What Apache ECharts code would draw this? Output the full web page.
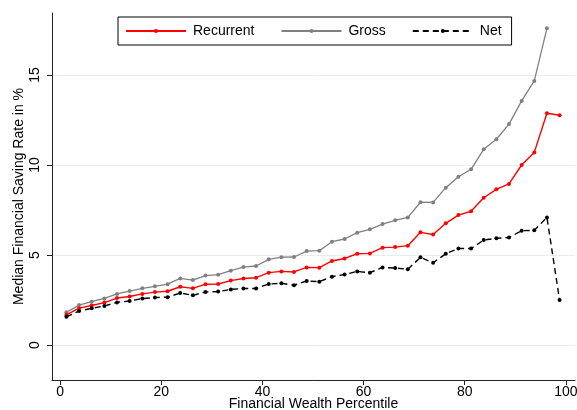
<!DOCTYPE html>
<html>
<head>
<meta charset="utf-8">
<script src="https://cdn.jsdelivr.net/npm/echarts@6/dist/echarts.min.js"></script>
<style>
  html, body { margin: 0; padding: 0; background: #fff; }
  #chart { width: 577px; height: 410px; }
</style>
</head>
<body>
<div id="chart"></div>
<script>
// Percentile bins (midpoints of 2.5-point groups)
const percentiles = [1.25, 3.75, 6.25, 8.75, 11.25, 13.75, 16.25, 18.75, 21.25, 23.75,
  26.25, 28.75, 31.25, 33.75, 36.25, 38.75, 41.25, 43.75, 46.25, 48.75,
  51.25, 53.75, 56.25, 58.75, 61.25, 63.75, 66.25, 68.75, 71.25, 73.75,
  76.25, 78.75, 81.25, 83.75, 86.25, 88.75, 91.25, 93.75, 96.25, 98.75];

const recurrent = [1.68, 2.05, 2.20, 2.36, 2.61, 2.70, 2.84, 2.94, 2.99, 3.24,
  3.15, 3.38, 3.39, 3.58, 3.70, 3.74, 4.02, 4.09, 4.06, 4.31,
  4.30, 4.67, 4.81, 5.07, 5.09, 5.41, 5.44, 5.52, 6.26, 6.14,
  6.76, 7.22, 7.43, 8.18, 8.65, 8.95, 10.00, 10.70, 12.87, 12.76];

const gross = [1.82, 2.22, 2.41, 2.59, 2.84, 3.00, 3.15, 3.26, 3.38, 3.70,
  3.61, 3.86, 3.91, 4.13, 4.33, 4.39, 4.76, 4.88, 4.89, 5.22,
  5.24, 5.74, 5.89, 6.24, 6.43, 6.72, 6.93, 7.09, 7.93, 7.92,
  8.74, 9.35, 9.76, 10.87, 11.43, 12.27, 13.56, 14.67, 17.59, null];

const net = [1.57, 1.89, 2.04, 2.17, 2.37, 2.45, 2.58, 2.64, 2.66, 2.89,
  2.76, 2.95, 2.97, 3.09, 3.14, 3.14, 3.39, 3.43, 3.32, 3.56,
  3.52, 3.80, 3.92, 4.09, 4.02, 4.31, 4.28, 4.21, 4.87, 4.57,
  5.07, 5.36, 5.36, 5.83, 5.93, 5.97, 6.35, 6.37, 7.09, 2.50];

const xTicks = [0, 20, 40, 60, 80, 100];
const yTicks = [0, 5, 10, 15];

const FONT = "'Liberation Sans', Arial, Helvetica, sans-serif";

function pairs(vals) {
  return percentiles.map((p, i) => [p, vals[i]]);
}

const chart = echarts.init(document.getElementById('chart'), null, { renderer: 'canvas' });

chart.setOption({
  animation: false,
  backgroundColor: '#ffffff',
  textStyle: { fontFamily: FONT },
  grid: { left: 52, right: 2, top: 13, bottom: 30, containLabel: false, outerBoundsMode: 'none' },
  legend: {
    left: 118,
    top: 17,
    itemWidth: 60,
    itemHeight: 5,
    itemGap: 26,
    padding: [7, 10, 7, 7],
    borderColor: '#000',
    borderWidth: 1,
    backgroundColor: '#fff',
    textStyle: { fontFamily: FONT, fontSize: 14, color: '#000', padding: [0, 0, 0, 2] },
    data: ['Recurrent', 'Gross', 'Net']
  },
  xAxis: {
    type: 'value',
    min: -1.6,
    max: 101.8,
    name: 'Financial Wealth Percentile',
    nameLocation: 'middle',
    nameGap: 17,
    nameMoveOverlap: false,
    nameTextStyle: { fontFamily: FONT, fontSize: 14, color: '#000' },
    axisLine: { show: true, onZero: false, lineStyle: { color: '#222', width: 1 } },
    axisTick: { show: true, length: 5, lineStyle: { color: '#222' }, customValues: xTicks },
    axisLabel: { fontFamily: FONT, fontSize: 14, color: '#000', margin: 5, customValues: xTicks },
    splitLine: { show: false }
  },
  yAxis: {
    type: 'value',
    min: -1.94,
    max: 18.44,
    name: 'Median Financial Saving Rate in %',
    nameLocation: 'middle',
    nameGap: 26,
    nameMoveOverlap: false,
    nameTextStyle: { fontFamily: FONT, fontSize: 14, color: '#000' },
    axisLine: { show: true, onZero: false, lineStyle: { color: '#222', width: 1 } },
    axisTick: { show: true, length: 5, lineStyle: { color: '#222' }, customValues: yTicks },
    axisLabel: { fontFamily: FONT, fontSize: 14, color: '#000', rotate: 90, margin: 10, customValues: yTicks },
    splitLine: { show: false }
  },
  series: [
    {
      name: 'Recurrent',
      type: 'line',
      data: pairs(recurrent),
      symbol: 'circle',
      symbolSize: 4,
      showAllSymbol: true,
      z: 4,
      itemStyle: { color: '#ff0000' },
      lineStyle: { color: '#ff0000', width: 1.4 },
      markLine: {
        silent: true,
        symbol: 'none',
        label: { show: false },
        z: 0,
        lineStyle: { color: '#e6eef1', width: 1, type: 'solid' },
        data: yTicks.map(v => ({ yAxis: v }))
      }
    },
    {
      name: 'Gross',
      type: 'line',
      data: pairs(gross),
      symbol: 'circle',
      symbolSize: 4,
      showAllSymbol: true,
      connectNulls: false,
      z: 3,
      itemStyle: { color: '#808080' },
      lineStyle: { color: '#808080', width: 1.3 }
    },
    {
      name: 'Net',
      type: 'line',
      data: pairs(net),
      symbol: 'circle',
      symbolSize: 4,
      showAllSymbol: true,
      z: 5,
      itemStyle: { color: '#000000' },
      lineStyle: { color: '#000000', width: 1.4, type: [6, 4] }
    }
  ]
});
</script>
</body>
</html>
